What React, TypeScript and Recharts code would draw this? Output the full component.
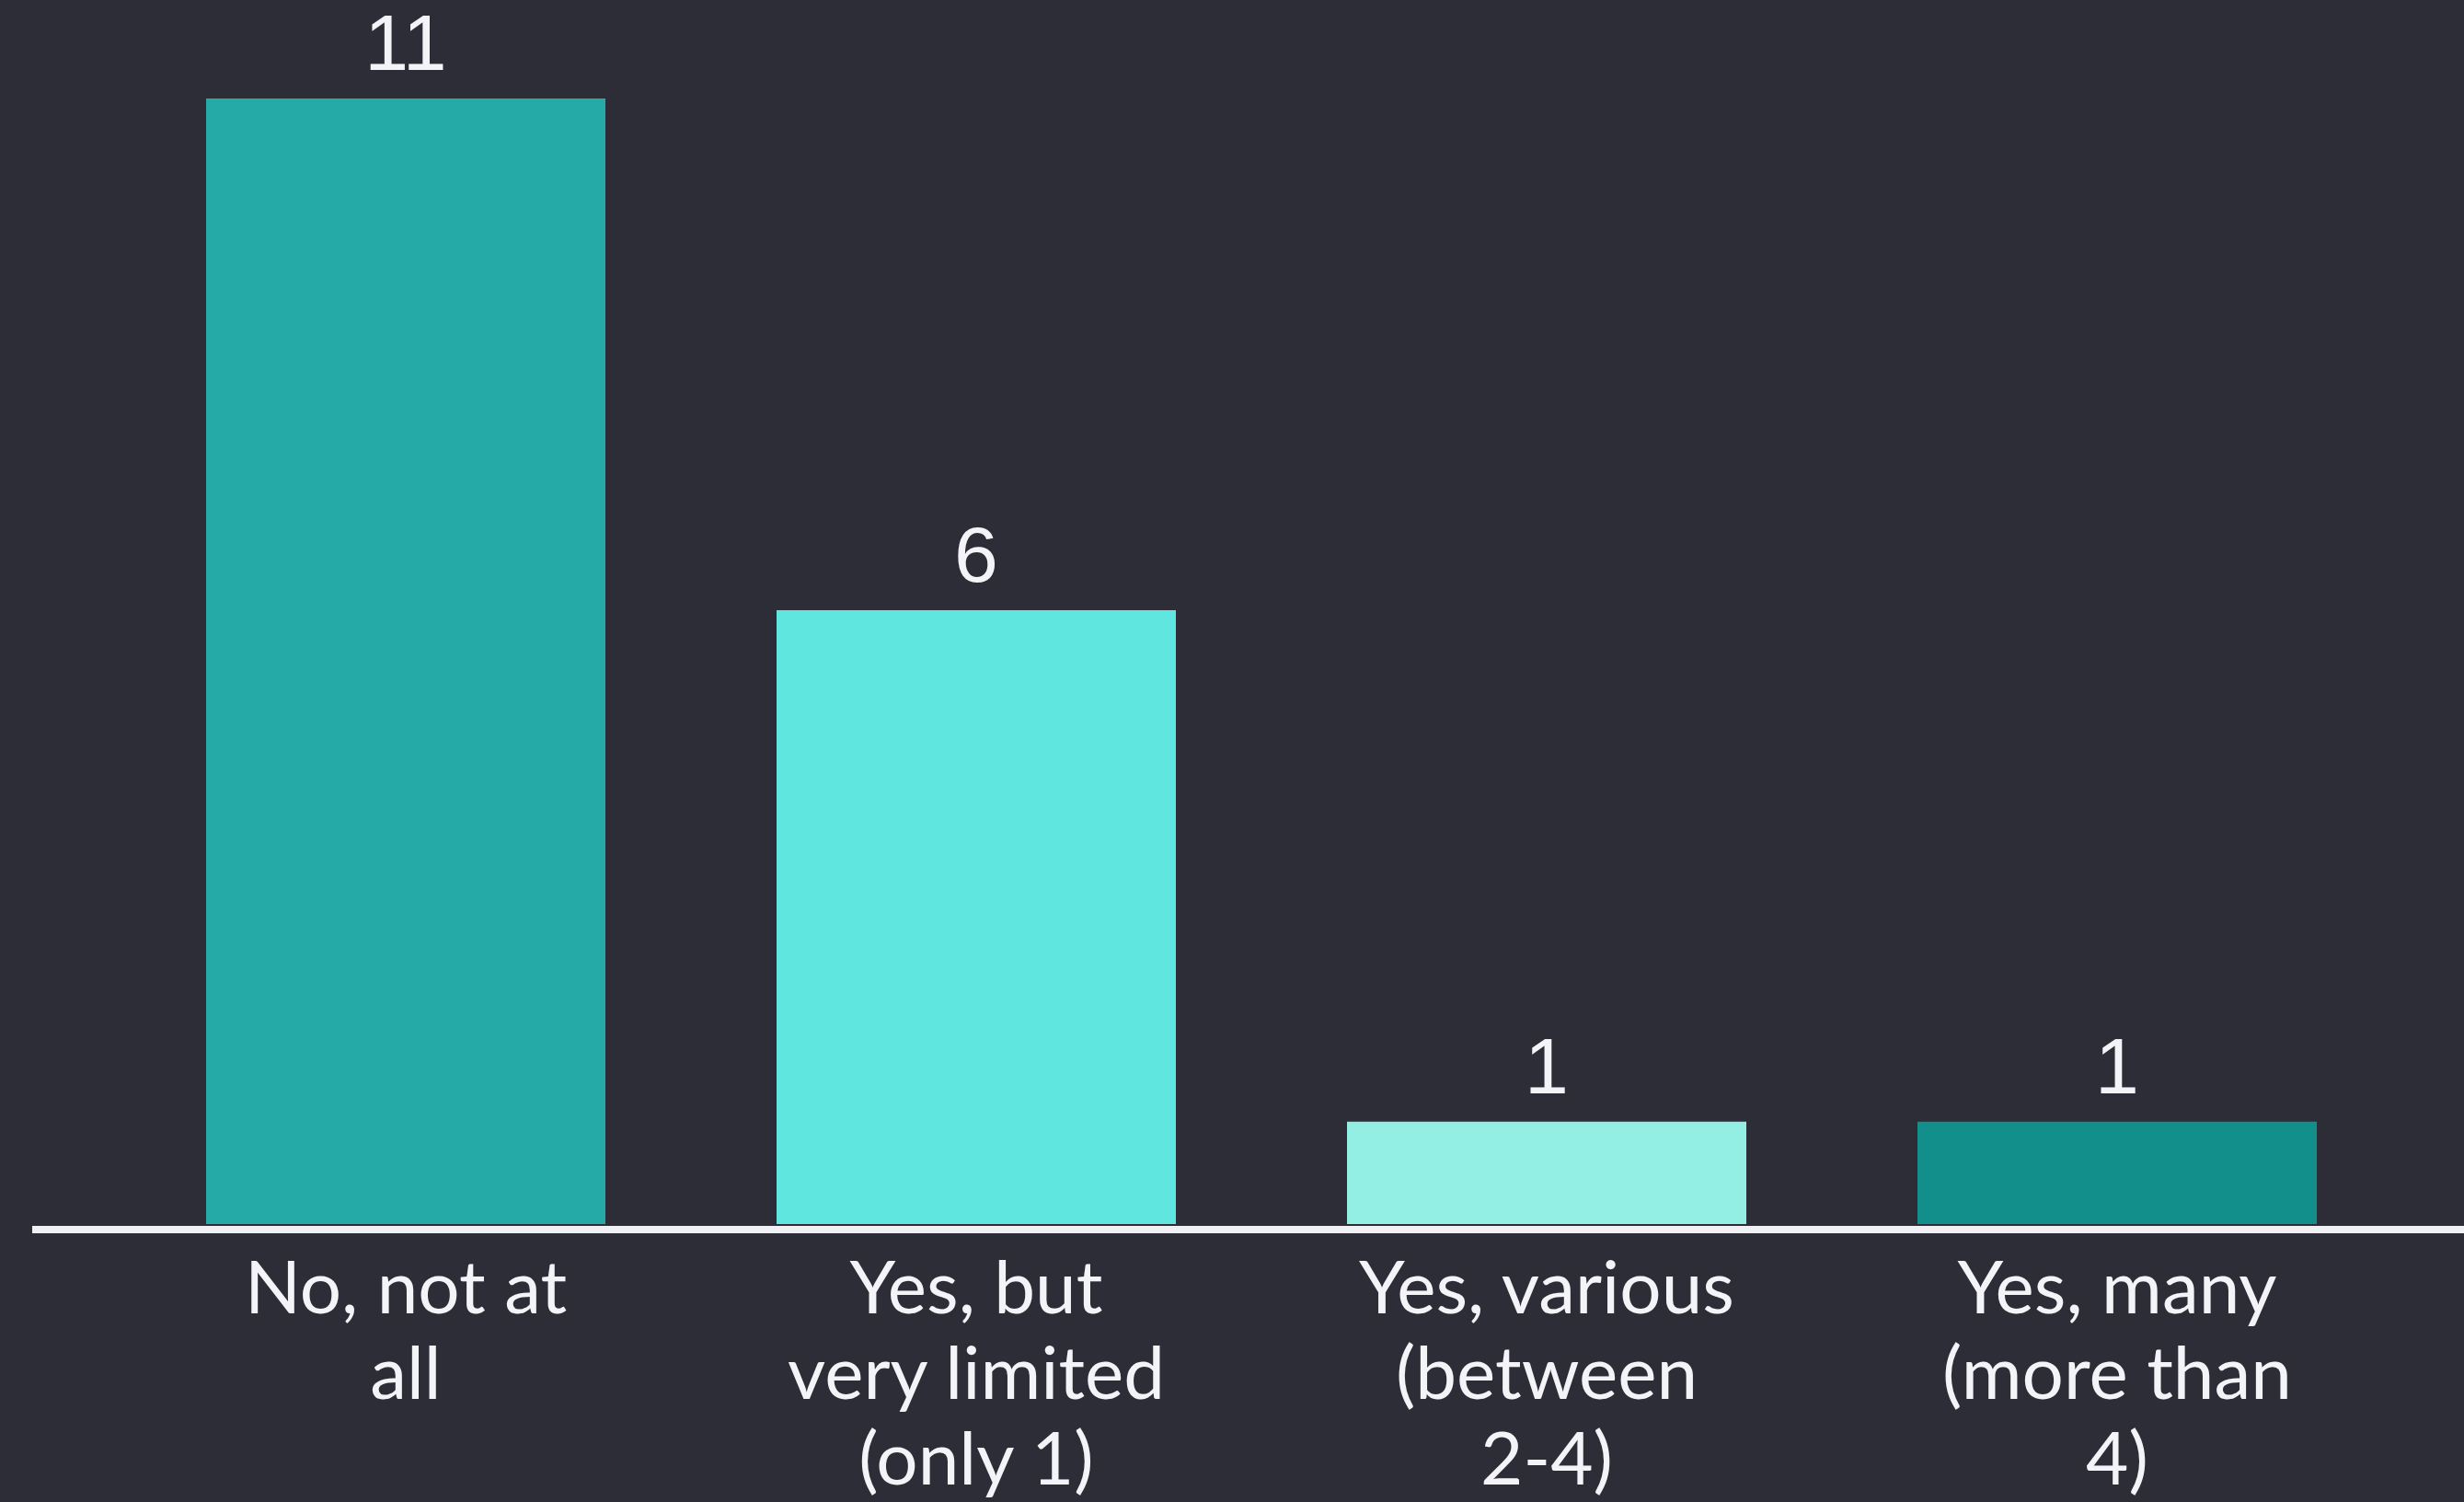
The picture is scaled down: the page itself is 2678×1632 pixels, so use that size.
import React from 'react';
import { BarChart, Bar, XAxis, YAxis, Cell, LabelList } from 'recharts';

const categories = [
  'No, not at all',
  'Yes, but very limited (only 1)',
  'Yes, various (between 2-4)',
  'Yes, many (more than 4)',
];
const tickLines = [
  ['No, not at', 'all'],
  ['Yes, but', 'very limited', '(only 1)'],
  ['Yes, various', '(between', '2-4)'],
  ['Yes, many', '(more than', '4)'],
];
const counts = [11, 6, 1, 1];
const barColors = ['#26aaa7', '#5ee6df', '#93efe4', '#128e8b'];

const data = categories.map((name, i) => ({ name, count: counts[i] }));

const CategoryTick = (props: any) => {
  const { x, y, index } = props;
  const lines = tickLines[index] || [];
  return (
    <text
      x={x}
      y={y}
      textAnchor="middle"
      fill="#f4f4f8"
      fontFamily="Lato, sans-serif"
      fontSize={80}
    >
      {lines.map((line, i) => (
        <tspan key={i} x={x} y={y + 91 + i * 93}>
          {line}
        </tspan>
      ))}
    </text>
  );
};

export default function App() {
  return (
    <div
      style={{
        position: 'absolute',
        left: 0,
        top: 0,
        width: 2678,
        height: 1632,
        background: '#2d2d38',
        overflow: 'hidden',
      }}
    >
      <BarChart
        width={2678}
        height={1632}
        data={data}
        margin={{ top: 107, right: 0, left: 35, bottom: 0 }}
      >
        <XAxis
          dataKey="name"
          height={296}
          axisLine={{ stroke: '#f0f0f5', strokeWidth: 8 }}
          tickLine={false}
          tickSize={0}
          tickMargin={0}
          interval={0}
          padding={{ left: 96, right: 67 }}
          tick={<CategoryTick />}
        />
        <YAxis hide domain={[-0.054, 11]} allowDataOverflow />
        <Bar dataKey="count" barSize={434} isAnimationActive={false}>
          {data.map((d, i) => (
            <Cell key={d.name} fill={barColors[i]} />
          ))}
          <LabelList
            dataKey="count"
            position="top"
            offset={31}
            fill="#f4f4f8"
            fontFamily="'Liberation Sans', Arial, sans-serif"
            fontSize={86}
          />
        </Bar>
      </BarChart>
    </div>
  );
}
